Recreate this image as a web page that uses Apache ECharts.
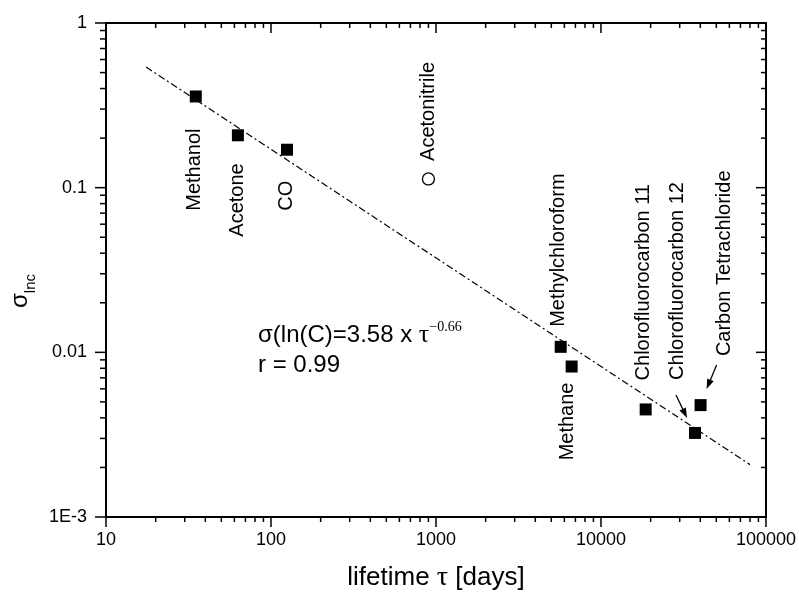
<!DOCTYPE html>
<html>
<head>
<meta charset="utf-8">
<script src="https://cdn.jsdelivr.net/npm/echarts@6/dist/echarts.min.js"></script>
<style>
html,body{margin:0;padding:0;background:#fff;}
#chart{width:799px;height:597px;}
</style>
</head>
<body>
<div id="chart"></div>
<script>
// ---- data ----
const names = ['Methanol','Acetone','CO','Acetonitrile','Methylchloroform','Methane','Chlorofluorocarbon 11','Chlorofluorocarbon 12','Carbon Tetrachloride'];
const lifetimes = [35, 63, 125, 900, 5700, 6640, 18660, 37150, 40150];
const sigmas = [0.358, 0.208, 0.170, 0.113, 0.0108, 0.0082, 0.0045, 0.00324, 0.00478];
const openCircleNames = ['Acetonitrile'];
const fitX = [17.5, 80000];
const fitY = [0.54, 0.00208];
const xTickValues = [10, 100, 1000, 10000, 100000];
const xTickLabels = ['10','100','1000','10000','100000'];
const yTickValues = [0.001, 0.01, 0.1, 1];
const yTickLabels = ['1E-3','0.01','0.1','1'];

// ---- layout (pixel offsets of labels relative to their point) ----
const labelLayout = {
  'Methanol': {dx:-1, dy:32, align:'right'},
  'Acetone': {dx:0, dy:28, align:'right'},
  'CO': {dx:0, dy:31, align:'right'},
  'Acetonitrile': {dx:0, dy:-18, align:'left'},
  'Methylchloroform': {dx:-2, dy:-20, align:'left'},
  'Methane': {dx:-4, dy:16, align:'right'},
  'Chlorofluorocarbon 11': {dx:-2, dy:-29, align:'left'},
  'Chlorofluorocarbon 12': {dx:-18, dy:-53, align:'left', arrow:[[-19,-38],[-8,-15]]},
  'Carbon Tetrachloride': {dx:24, dy:-49, align:'left', arrow:[[16,-40],[6,-16]]}
};

const FONT = 'Liberation Sans, Arial, sans-serif';
const SERIF = 'Liberation Serif, Times New Roman, serif';

// minor tick positions (2..9 x decade)
const xMinor = [];
for (let k = 1; k <= 4; k++) for (let m = 2; m <= 9; m++) xMinor.push(m * Math.pow(10, k));
const yMinor = [];
for (let k = -3; k <= -1; k++) for (let m = 2; m <= 9; m++) yMinor.push(+(m * Math.pow(10, k)).toPrecision(3));

const filled = [], open = [];
names.forEach((n, i) => {
  (openCircleNames.includes(n) ? open : filled).push([lifetimes[i], sigmas[i]]);
});

const axisLine = {show:true, lineStyle:{color:'#000', width:2}};
const chart = echarts.init(document.getElementById('chart'), null, {renderer:'canvas'});

function xLabel(v){ const e = Math.round(Math.log10(v)); return xTickLabels[e-1] || ''; }
function yLabel(v){ const e = Math.round(Math.log10(v)); return yTickLabels[e+3] || ''; }

function tickLine(x1, y1, x2, y2){
  return {type:'line', shape:{x1, y1, x2, y2}, style:{stroke:'#000', lineWidth:1.5}};
}

const option = {
  animation: false,
  backgroundColor: '#fff',
  grid: {left:106, right:33, top:23, bottom:72, containLabel:false},
  xAxis: [
    {type:'log', logBase:10, min:10, max:100000, position:'bottom',
     axisLine, splitLine:{show:false},
     axisTick:{show:false},
     axisLabel:{color:'#000', fontSize:18, fontFamily:FONT, margin:14, formatter:xLabel},
     name:'{a|lifetime }{t|τ}{a| [days]}', nameLocation:'middle', nameGap:47,
     nameTextStyle:{color:'#000', rich:{a:{fontSize:26, fontFamily:FONT, color:'#000'}, t:{fontSize:28, fontFamily:SERIF, color:'#000'}}}
    },
    {type:'log', logBase:10, min:10, max:100000, position:'top',
     axisLine, splitLine:{show:false}, axisTick:{show:false}, axisLabel:{show:false}}
  ],
  yAxis: [
    {type:'log', logBase:10, min:0.001, max:1, position:'left',
     axisLine, splitLine:{show:false},
     axisTick:{show:false},
     axisLabel:{color:'#000', fontSize:18, fontFamily:FONT, margin:19, formatter:yLabel},
     name:'{s|σ}{sub|lnc}', nameLocation:'middle', nameGap:72, nameRotate:90,
     nameTextStyle:{color:'#000', padding:[0,42,0,0], rich:{s:{fontSize:24, fontFamily:FONT, color:'#000', verticalAlign:'bottom', lineHeight:26}, sub:{fontSize:15, fontFamily:FONT, color:'#000', verticalAlign:'bottom', lineHeight:26, padding:[0,0,-6,0]}}}
    },
    {type:'log', logBase:10, min:0.001, max:1, position:'right',
     axisLine, splitLine:{show:false}, axisTick:{show:false}, axisLabel:{show:false}}
  ],
  graphic: [
    {type:'text', left:258, top:320, z:100,
     style:{text:'{a|σ(ln(C)=3.58 x }{t|τ}{sup|−0.66}\n{a|r = 0.99}', fill:'#000',
       rich:{a:{fontSize:24, fontFamily:FONT, lineHeight:30, fill:'#000'},
             t:{fontSize:26, fontFamily:SERIF, lineHeight:30, fill:'#000'},
             sup:{fontSize:14, fontFamily:SERIF, lineHeight:30, verticalAlign:'top', fill:'#000'}}}}
  ],
  series: [
    {type:'custom', name:'ticks', clip:false, silent:true, z:10,
     data: [[100, 0.01]],
     renderItem(params, api){
       const cs = params.coordSys;
       const top = cs.y, bottom = cs.y + cs.height, left = cs.x, right = cs.x + cs.width;
       const ch = [];
       xTickValues.forEach(v => {
         const x = api.coord([v, 0.01])[0];
         ch.push(tickLine(x, bottom, x, bottom + 10));
         ch.push(tickLine(x, top, x, top + 10));
       });
       xMinor.forEach(v => {
         const x = api.coord([v, 0.01])[0];
         ch.push(tickLine(x, bottom, x, bottom + 5));
         ch.push(tickLine(x, top, x, top + 5));
       });
       yTickValues.forEach(v => {
         const y = api.coord([100, v])[1];
         ch.push(tickLine(left - 11, y, left, y));
         ch.push(tickLine(right - 10, y, right, y));
       });
       yMinor.forEach(v => {
         const y = api.coord([100, v])[1];
         ch.push(tickLine(left - 6, y, left, y));
         ch.push(tickLine(right - 5, y, right, y));
       });
       return {type:'group', children:ch};
     }},
    {type:'line', name:'fit', data: fitX.map((x, i) => [x, fitY[i]]), symbol:'none',
     lineStyle:{color:'#000', width:1.2, type:[7,3,2,3]}, z:2},
    {type:'scatter', name:'filled', data: filled, symbol:'rect', symbolSize:12,
     itemStyle:{color:'#000', opacity:1}, z:5},
    {type:'scatter', name:'open', data: open, symbol:'circle', symbolSize:12,
     itemStyle:{color:'#fff', borderColor:'#000', borderWidth:1.3, opacity:1}, z:5},
    {type:'custom', name:'labels', clip:false, silent:true, z:6,
     data: names.map((n, i) => [lifetimes[i], sigmas[i], i]),
     renderItem(params, api){
       const p = api.coord([api.value(0), api.value(1)]);
       const n = names[api.value(2)];
       const L = labelLayout[n];
       const children = [{
         type:'text', x:p[0]+L.dx, y:p[1]+L.dy, rotation:Math.PI/2,
         style:{text:n, fontSize:20, fontFamily:FONT, fill:'#000', align:L.align, verticalAlign:'middle'}
       }];
       if (L.arrow) {
         const s = [p[0]+L.arrow[0][0], p[1]+L.arrow[0][1]];
         const e = [p[0]+L.arrow[1][0], p[1]+L.arrow[1][1]];
         const dx = e[0]-s[0], dy = e[1]-s[1];
         const len = Math.sqrt(dx*dx+dy*dy);
         const ux = dx/len, uy = dy/len;
         const hl = 10, hw = 3.5;
         const b = [e[0]-ux*hl, e[1]-uy*hl];
         children.push({type:'line', shape:{x1:s[0], y1:s[1], x2:b[0], y2:b[1]}, style:{stroke:'#000', lineWidth:1.3}});
         children.push({type:'polygon', shape:{points:[e, [b[0]-uy*hw, b[1]+ux*hw], [b[0]+uy*hw, b[1]-ux*hw]]}, style:{fill:'#000'}});
       }
       return {type:'group', children};
     }}
  ]
};
chart.setOption(option);
</script>
</body>
</html>
